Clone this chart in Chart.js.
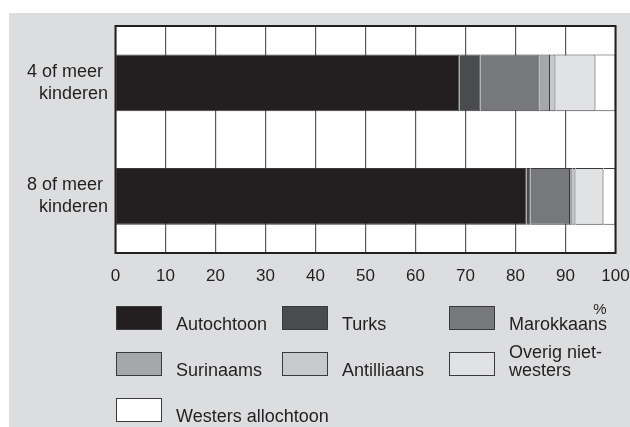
<!DOCTYPE html>
<html>
<head>
<meta charset="utf-8">
<script src="https://cdn.jsdelivr.net/npm/chart.js@4.4.1/dist/chart.umd.min.js"></script>
<style>
html,body{margin:0;padding:0;background:#ffffff;}
#wrap{width:630px;height:427px;position:relative;}
canvas{display:block;}
</style>
</head>
<body>
<div id="wrap"><canvas id="c" width="630" height="427"></canvas></div>
<script>
const categories = [['4 of meer ', 'kinderen'], ['8 of meer ', 'kinderen']];
const seriesNames = ['Autochtoon', 'Turks', 'Marokkaans', 'Surinaams', 'Antilliaans', 'Overig niet-westers', 'Westers allochtoon'];
const legendLines = [['Autochtoon'], ['Turks'], ['Marokkaans'], ['Surinaams'], ['Antilliaans'], ['Overig niet-', 'westers'], ['Westers allochtoon']];
const autochtoon = [68.8, 82.2];
const turks = [4.2, 0.8];
const marokkaans = [11.8, 7.9];
const surinaams = [2.1, 0.5];
const antilliaans = [1.1, 0.6];
const overig = [8.0, 5.6];
const westers = [4.0, 2.4];
const xTicks = [0, 10, 20, 30, 40, 50, 60, 70, 80, 90, 100];
const unitLabel = '%';

const colors = ['#231f20', '#4a4b4d', '#77787b', '#a6a7a9', '#c8c9cb', '#e1e2e3', '#ffffff'];
const seriesData = [autochtoon, turks, marokkaans, surinaams, antilliaans, overig, westers];

const FONT = '"Liberation Sans", Arial, Helvetica, sans-serif';

function zeroPad(scale) {
  scale.paddingTop = 0; scale.paddingBottom = 0;
  scale.paddingLeft = 0; scale.paddingRight = 0;
}

const bgPlugin = {
  id: 'bg',
  beforeDraw(chart) {
    const ctx = chart.ctx;
    const a = chart.chartArea;
    ctx.save();
    ctx.fillStyle = '#dcdddf';
    ctx.fillRect(9, 13, chart.width - 9, chart.height - 13);
    ctx.fillStyle = '#ffffff';
    ctx.fillRect(a.left, a.top, a.right - a.left, a.bottom - a.top);
    ctx.restore();
  },
  afterDraw(chart) {
    const ctx = chart.ctx;
    const a = chart.chartArea;
    ctx.save();
    ctx.strokeStyle = '#231f20';
    ctx.lineWidth = 2;
    ctx.strokeRect(a.left, a.top, a.right - a.left, a.bottom - a.top);

    // legend
    const colX = [116, 282, 449];
    const rowY = [306, 352, 398];
    const boxW = 46, boxH = 24;
    ctx.font = '18px ' + FONT;
    ctx.textAlign = 'left';
    ctx.textBaseline = 'alphabetic';
    chart.data.datasets.forEach((ds, i) => {
      const col = i % 3, row = Math.floor(i / 3);
      const x = colX[col], y = rowY[row];
      ctx.fillStyle = ds.backgroundColor;
      ctx.fillRect(x, y, boxW, boxH);
      ctx.lineWidth = 1;
      ctx.strokeStyle = '#3a3a3c';
      ctx.strokeRect(x + 0.5, y + 0.5, boxW - 1, boxH - 1);
      ctx.fillStyle = '#231f20';
      const lines = legendLines[i];
      const baseY = y + boxH - 0.5;
      for (let k = 0; k < lines.length; k++) {
        const ly = baseY - (lines.length - 1 - k) * 17.5;
        ctx.fillText(lines[k], x + 60, ly);
      }
    });
    // unit label
    ctx.font = '15px ' + FONT;
    ctx.textAlign = 'center';
    ctx.fillStyle = '#231f20';
    ctx.fillText(unitLabel, 600, 314);
    ctx.restore();
  }
};

new Chart(document.getElementById('c'), {
  type: 'bar',
  data: {
    labels: categories,
    datasets: seriesNames.map((name, i) => ({
      label: name,
      data: seriesData[i],
      backgroundColor: colors[i],
      borderColor: '#3a3a3c',
      borderWidth: 1,
      borderSkipped: 'start',
      barPercentage: 0.5,
      categoryPercentage: 1.0
    }))
  },
  options: {
    indexAxis: 'y',
    responsive: false,
    animation: false,
    devicePixelRatio: 1,
    layout: { padding: { left: 8, right: 14.5, top: 26, bottom: 144 } },
    plugins: {
      legend: { display: false },
      tooltip: { enabled: false },
      title: { display: false }
    },
    scales: {
      x: {
        stacked: true,
        min: 0,
        max: 100,
        afterBuildTicks(scale) { scale.ticks = xTicks.map(v => ({ value: v })); },
        afterFit(scale) { scale.height = 30; zeroPad(scale); },
        grid: { color: '#5a5a5c', lineWidth: 1.2, drawTicks: false },
        border: { display: false },
        ticks: {
          color: '#231f20',
          font: { family: FONT, size: 17 },
          padding: 13.5,
          maxRotation: 0,
          autoSkip: false
        }
      },
      y: {
        stacked: true,
        afterFit(scale) { scale.width = 107.5; zeroPad(scale); },
        grid: { display: false, drawTicks: false },
        border: { display: false },
        ticks: {
          color: '#231f20',
          font: { family: FONT, size: 18, lineHeight: 1.22 },
          padding: 7.5
        }
      }
    }
  },
  plugins: [bgPlugin]
});
</script>
</body>
</html>
